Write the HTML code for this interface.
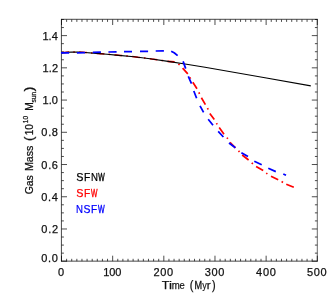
<!DOCTYPE html>
<html><head><meta charset="utf-8"><title>plot</title>
<style>html,body{margin:0;padding:0;background:#fff;overflow:hidden}body{width:335px;height:300px;font-family:"Liberation Sans",sans-serif}</style></head>
<body>
<svg width="335" height="300" viewBox="0 0 335 300" style="display:block;will-change:transform;opacity:0.999">
<rect width="335" height="300" fill="#fff"/>
<path d="M61.50 261.20v-5.5M61.50 19.50v5.5M66.62 261.20v-2.4M66.62 19.50v2.4M71.73 261.20v-2.4M71.73 19.50v2.4M76.85 261.20v-2.4M76.85 19.50v2.4M81.96 261.20v-2.4M81.96 19.50v2.4M87.08 261.20v-2.4M87.08 19.50v2.4M92.20 261.20v-2.4M92.20 19.50v2.4M97.31 261.20v-2.4M97.31 19.50v2.4M102.43 261.20v-2.4M102.43 19.50v2.4M107.54 261.20v-2.4M107.54 19.50v2.4M112.66 261.20v-5.5M112.66 19.50v5.5M117.78 261.20v-2.4M117.78 19.50v2.4M122.89 261.20v-2.4M122.89 19.50v2.4M128.01 261.20v-2.4M128.01 19.50v2.4M133.12 261.20v-2.4M133.12 19.50v2.4M138.24 261.20v-2.4M138.24 19.50v2.4M143.36 261.20v-2.4M143.36 19.50v2.4M148.47 261.20v-2.4M148.47 19.50v2.4M153.59 261.20v-2.4M153.59 19.50v2.4M158.70 261.20v-2.4M158.70 19.50v2.4M163.82 261.20v-5.5M163.82 19.50v5.5M168.94 261.20v-2.4M168.94 19.50v2.4M174.05 261.20v-2.4M174.05 19.50v2.4M179.17 261.20v-2.4M179.17 19.50v2.4M184.28 261.20v-2.4M184.28 19.50v2.4M189.40 261.20v-2.4M189.40 19.50v2.4M194.52 261.20v-2.4M194.52 19.50v2.4M199.63 261.20v-2.4M199.63 19.50v2.4M204.75 261.20v-2.4M204.75 19.50v2.4M209.86 261.20v-2.4M209.86 19.50v2.4M214.98 261.20v-5.5M214.98 19.50v5.5M220.10 261.20v-2.4M220.10 19.50v2.4M225.21 261.20v-2.4M225.21 19.50v2.4M230.33 261.20v-2.4M230.33 19.50v2.4M235.44 261.20v-2.4M235.44 19.50v2.4M240.56 261.20v-2.4M240.56 19.50v2.4M245.68 261.20v-2.4M245.68 19.50v2.4M250.79 261.20v-2.4M250.79 19.50v2.4M255.91 261.20v-2.4M255.91 19.50v2.4M261.02 261.20v-2.4M261.02 19.50v2.4M266.14 261.20v-5.5M266.14 19.50v5.5M271.26 261.20v-2.4M271.26 19.50v2.4M276.37 261.20v-2.4M276.37 19.50v2.4M281.49 261.20v-2.4M281.49 19.50v2.4M286.60 261.20v-2.4M286.60 19.50v2.4M291.72 261.20v-2.4M291.72 19.50v2.4M296.84 261.20v-2.4M296.84 19.50v2.4M301.95 261.20v-2.4M301.95 19.50v2.4M307.07 261.20v-2.4M307.07 19.50v2.4M312.18 261.20v-2.4M312.18 19.50v2.4M317.30 261.20v-5.5M317.30 19.50v5.5M61.50 261.20h5.5M317.30 261.20h-5.5M61.50 253.14h2.4M317.30 253.14h-2.4M61.50 245.09h2.4M317.30 245.09h-2.4M61.50 237.03h2.4M317.30 237.03h-2.4M61.50 228.97h5.5M317.30 228.97h-5.5M61.50 220.92h2.4M317.30 220.92h-2.4M61.50 212.86h2.4M317.30 212.86h-2.4M61.50 204.80h2.4M317.30 204.80h-2.4M61.50 196.75h5.5M317.30 196.75h-5.5M61.50 188.69h2.4M317.30 188.69h-2.4M61.50 180.63h2.4M317.30 180.63h-2.4M61.50 172.58h2.4M317.30 172.58h-2.4M61.50 164.52h5.5M317.30 164.52h-5.5M61.50 156.46h2.4M317.30 156.46h-2.4M61.50 148.41h2.4M317.30 148.41h-2.4M61.50 140.35h2.4M317.30 140.35h-2.4M61.50 132.29h5.5M317.30 132.29h-5.5M61.50 124.24h2.4M317.30 124.24h-2.4M61.50 116.18h2.4M317.30 116.18h-2.4M61.50 108.12h2.4M317.30 108.12h-2.4M61.50 100.07h5.5M317.30 100.07h-5.5M61.50 92.01h2.4M317.30 92.01h-2.4M61.50 83.95h2.4M317.30 83.95h-2.4M61.50 75.90h2.4M317.30 75.90h-2.4M61.50 67.84h5.5M317.30 67.84h-5.5M61.50 59.78h2.4M317.30 59.78h-2.4M61.50 51.73h2.4M317.30 51.73h-2.4M61.50 43.67h2.4M317.30 43.67h-2.4M61.50 35.61h5.5M317.30 35.61h-5.5M61.50 27.56h2.4M317.30 27.56h-2.4M61.50 19.50h2.4M317.30 19.50h-2.4" stroke="#000" stroke-width="0.7" fill="none"/>
<path d="M61.42 261.51V18.94M61.06 19.3H317.6M61.06 261.15H317.6" fill="none" stroke="#000" stroke-width="0.72"/>
<path d="M317.3 261.51V18.94" fill="none" stroke="#000" stroke-width="0.6"/>
<path d="M61.5 52.8L63.4 52.6L65.3 52.4L67.2 52.2L69.1 52.1M73.3 51.9L74.8 51.9M79.2 52.1L81.1 52.2L83.0 52.3L84.9 52.4L86.8 52.5M91.0 52.9L92.5 53.0M96.8 53.4L98.7 53.5L100.6 53.7L102.5 53.8L104.4 54.0M108.6 54.3L110.1 54.5M114.5 54.9L116.4 55.0L118.3 55.2L120.2 55.4L122.1 55.6M126.3 56.0L127.8 56.1M132.2 56.5L134.1 56.7L136.0 56.9L137.9 57.2L139.8 57.4M144.0 57.9L145.5 58.1M149.8 58.7L151.7 59.0L153.6 59.2L155.5 59.5L157.4 59.8M161.6 60.4L163.1 60.6" stroke="#f00" stroke-width="1.5" fill="none"/>
<path d="M167.5 61.3L174.6 61.9M182.6 68.2L187.8 73.8M192.8 82.2L197.0 88.8M201.4 97.8L205.4 104.6M209.8 113.4L214.3 119.5M219.2 127.6L224.0 134.2M230.0 142.3L235.4 147.8M242.2 155.0L248.6 160.0M256.1 166.4L263.2 170.5M271.0 176.2L278.2 179.8M286.3 184.3L293.8 187.3M178.4 63.8L179.6 64.8M189.8 77.4L190.6 78.6M198.9 92.4L199.5 93.8M207.5 108.1L208.1 109.5M216.4 123.2L217.2 124.4M227.0 137.6L227.8 138.8M238.5 150.9L239.5 151.9M251.7 162.8L252.9 163.8M266.2 173.1L267.4 173.9M281.6 181.6L283.0 182.4" stroke="#f00" stroke-width="1.7" fill="none"/>
<path d="M61.5 52.9L66.0 52.4L72.3 52.0L78.0 52.1L85.0 52.5L96.0 53.4L107.0 54.3L116.0 55.1L134.0 56.8L150.0 58.8L168.0 61.4L185.0 64.0L205.0 67.2L265.0 77.8L310.8 85.9" stroke="#000" stroke-width="1.12" fill="none" stroke-linejoin="round"/>
<path d="M61.0 52.9L69.2 52.9M76.9 52.8L85.1 52.6M92.8 52.3L100.9 52.1M108.4 52.0L116.6 51.9M124.0 51.7L132.0 51.6M140.0 51.4L148.1 51.3M155.7 51.0L163.9 50.8M171.2 51.3L174.5 53.0L177.6 55.6M183.1 61.4L185.7 68.6M188.3 76.4L191.5 83.6M193.8 91.0L196.6 98.2M200.0 105.8L203.6 112.4M208.2 119.3L213.0 125.2M218.2 131.4L223.4 137.0M229.0 143.0L235.4 147.8M241.4 152.8L248.0 156.6M254.3 161.3L261.7 164.8M268.3 168.3L275.8 171.6M283.3 174.0L286.0 175.3" stroke="#00f" stroke-width="1.75" fill="none"/>
<g font-family="'Liberation Sans', sans-serif" font-size="11px" fill="#111" stroke="#111" stroke-width="0.25">
<text x="41.37" y="261.80" letter-spacing="0.634">0.0</text>
<text x="41.37" y="233.17" letter-spacing="0.696">0.2</text>
<text x="41.37" y="200.95" letter-spacing="0.580">0.4</text>
<text x="41.37" y="168.72" letter-spacing="0.661">0.6</text>
<text x="41.37" y="136.49" letter-spacing="0.658">0.8</text>
<text x="42.46" y="104.27" letter-spacing="0.088">1.0</text>
<text x="42.46" y="72.04" letter-spacing="0.150">1.2</text>
<text x="42.46" y="39.81" letter-spacing="0.034">1.4</text>
<text x="57.97" y="276.40" letter-spacing="0.000">0</text>
<text x="103.16" y="276.40" letter-spacing="-0.043">100</text>
<text x="153.45" y="276.40" letter-spacing="0.665">200</text>
<text x="204.73" y="276.40" letter-spacing="0.623">300</text>
<text x="256.05" y="276.40" letter-spacing="0.715">400</text>
<text x="307.06" y="276.40" letter-spacing="0.659">500</text>
<text x="161.72" y="288.80" textLength="7.56" lengthAdjust="spacingAndGlyphs">T</text>
<text x="169.09" y="288.80" textLength="3.03" lengthAdjust="spacingAndGlyphs">i</text>
<text x="171.86" y="288.80" textLength="8.02" lengthAdjust="spacingAndGlyphs" stroke-width="0.25">m</text>
<text x="179.50" y="288.80" textLength="5.27" lengthAdjust="spacingAndGlyphs" stroke-width="0.15">e</text>
<text x="189.82" y="288.80" textLength="3.64" lengthAdjust="spacingAndGlyphs" font-size="12px">(</text>
<text x="194.55" y="288.80" textLength="7.60" lengthAdjust="spacingAndGlyphs" stroke-width="0.3">M</text>
<text x="202.28" y="288.80" textLength="4.54" lengthAdjust="spacingAndGlyphs" stroke-width="0.15">y</text>
<text x="206.73" y="288.80" textLength="3.86" lengthAdjust="spacingAndGlyphs">r</text>
<text x="211.94" y="288.80" textLength="3.64" lengthAdjust="spacingAndGlyphs" font-size="12px">)</text>
<g transform="translate(33.3 0) rotate(-90)">
<text x="-194.38" y="0.00" textLength="19.15" lengthAdjust="spacingAndGlyphs" font-size="10.1px">Gas</text>
<text x="-171.08" y="0.00" textLength="25.56" lengthAdjust="spacingAndGlyphs" font-size="10.1px">Mass</text>
<text x="-141.02" y="0.00" textLength="4.40" lengthAdjust="spacingAndGlyphs" font-size="12px">(</text>
<text x="-135.37" y="0.00" letter-spacing="-0.070" font-size="10.1px">10</text>
<text x="-123.30" y="-5.50" textLength="7.36" lengthAdjust="spacingAndGlyphs" font-size="6.7px">10</text>
<text x="-110.69" y="0.00" textLength="8.53" lengthAdjust="spacingAndGlyphs" font-size="10.1px">M</text>
<text x="-102.59" y="2.80" textLength="10.82" lengthAdjust="spacingAndGlyphs" font-size="6.7px">sun</text>
<text x="-91.59" y="0.00" textLength="5.02" lengthAdjust="spacingAndGlyphs" font-size="12px">)</text>
</g>
<text x="76.31" y="180.90" textLength="7.18" lengthAdjust="spacingAndGlyphs" fill="#000" stroke="#000">S</text>
<text x="84.06" y="180.90" textLength="6.25" lengthAdjust="spacingAndGlyphs" fill="#000" stroke="#000">F</text>
<text x="90.91" y="180.90" textLength="6.98" lengthAdjust="spacingAndGlyphs" fill="#000" stroke="#000" stroke-width="0.2">N</text>
<text x="98.17" y="180.90" textLength="6.45" lengthAdjust="spacingAndGlyphs" fill="#000" stroke="#000" stroke-width="0.45">W</text>
<text x="76.31" y="196.90" textLength="7.18" lengthAdjust="spacingAndGlyphs" fill="#f00" stroke="#f00">S</text>
<text x="84.06" y="196.90" textLength="6.25" lengthAdjust="spacingAndGlyphs" fill="#f00" stroke="#f00">F</text>
<text x="91.07" y="196.90" textLength="6.45" lengthAdjust="spacingAndGlyphs" fill="#f00" stroke="#f00" stroke-width="0.45">W</text>
<text x="76.01" y="213.25" textLength="6.98" lengthAdjust="spacingAndGlyphs" fill="#00f" stroke="#00f" stroke-width="0.2">N</text>
<text x="83.43" y="213.25" textLength="6.95" lengthAdjust="spacingAndGlyphs" fill="#00f" stroke="#00f">S</text>
<text x="90.88" y="213.25" textLength="6.12" lengthAdjust="spacingAndGlyphs" fill="#00f" stroke="#00f">F</text>
<text x="97.97" y="213.25" textLength="6.66" lengthAdjust="spacingAndGlyphs" fill="#00f" stroke="#00f" stroke-width="0.45">W</text>
</g>
</svg>
</body></html>
